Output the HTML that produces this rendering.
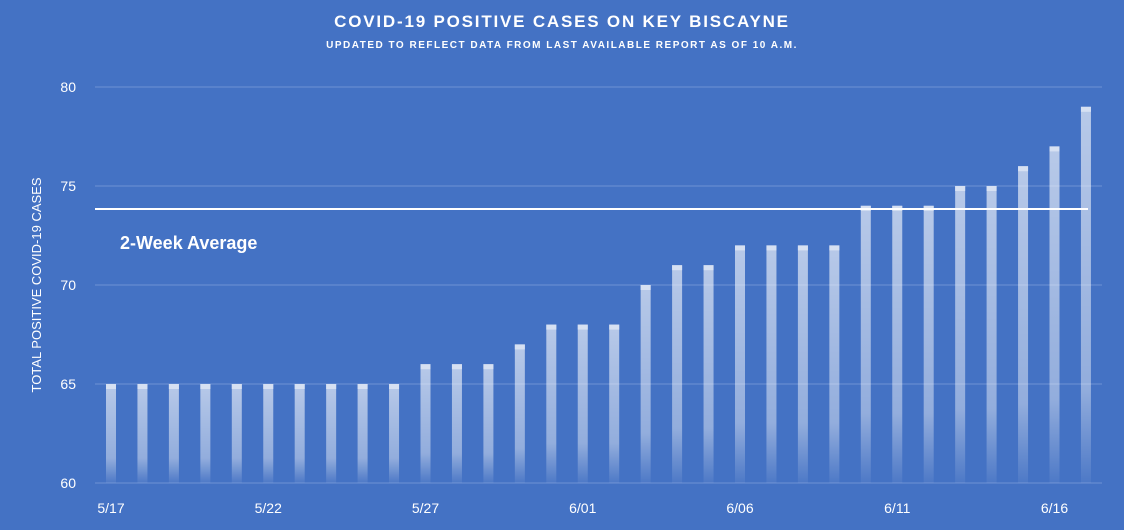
<!DOCTYPE html>
<html><head><meta charset="utf-8"><style>
body{margin:0;background:#4472c4;}
svg{display:block;font-family:"Liberation Sans",sans-serif;}
</style></head><body>
<svg id="chart" width="1124" height="530">
<defs>
<linearGradient id="bg" x1="0" y1="0" x2="0" y2="1">
<stop offset="0" stop-color="#ffffff" stop-opacity="0.62"/>
<stop offset="0.75" stop-color="#ffffff" stop-opacity="0.42"/>
<stop offset="1" stop-color="#ffffff" stop-opacity="0.05"/>
</linearGradient>
</defs>
<rect width="1124" height="530" fill="#4472c4"/>
<text x="562" y="27" text-anchor="middle" fill="#fff" font-size="17" font-weight="bold" letter-spacing="1.8">COVID-19 POSITIVE CASES ON KEY BISCAYNE</text>
<text x="562" y="48" text-anchor="middle" fill="#fff" font-size="10" font-weight="bold" letter-spacing="1.5">UPDATED TO REFLECT DATA FROM LAST AVAILABLE REPORT AS OF 10 A.M.</text>
<text transform="translate(41,285) rotate(-90)" text-anchor="middle" fill="#fff" font-size="13">TOTAL POSITIVE COVID-19 CASES</text>
<g id="grid"></g><g id="bars"></g><g id="xl"></g>
<line x1="95" x2="1088" y1="209" y2="209" stroke="#fff" stroke-width="2"/>
<text x="120" y="249" fill="#fff" font-size="18" font-weight="bold">2-Week Average</text>
</svg>
<script>
const values=[65,65,65,65,65,65,65,65,65,65,66,66,66,67,68,68,68,70,71,71,72,72,72,72,74,74,74,75,75,76,77,79];
const yTicks=[60,65,70,75,80];
const xLabels=["5/17","5/22","5/27","6/01","6/06","6/11","6/16"];
const xLabelIdx=[0,5,10,15,20,25,30];
const NS="http://www.w3.org/2000/svg";
const y=v=>483-(v-60)*19.8;
const x=i=>111+i*31.45;
const g=document.getElementById('grid'),b=document.getElementById('bars'),xl=document.getElementById('xl');
yTicks.forEach(t=>{
 const l=document.createElementNS(NS,'line');
 l.setAttribute('x1',95);l.setAttribute('x2',1102);l.setAttribute('y1',y(t));l.setAttribute('y2',y(t));
 l.setAttribute('stroke','#6087cf');l.setAttribute('stroke-width','1.5');
 
 
 g.appendChild(l);
 const tx=document.createElementNS(NS,'text');
 tx.setAttribute('x',76);tx.setAttribute('y',y(t)+5);tx.setAttribute('text-anchor','end');
 tx.setAttribute('fill','#fff');tx.setAttribute('font-size','14');tx.textContent=t;
 
 
 g.appendChild(tx);
});
values.forEach((v,i)=>{
 const r=document.createElementNS(NS,'rect');
 r.setAttribute('x',x(i)-5);r.setAttribute('y',y(v));r.setAttribute('width',10);r.setAttribute('height',483-y(v));
 r.setAttribute('fill','url(#bg)');
 
 
 b.appendChild(r);
 const c=document.createElementNS(NS,'rect');
 c.setAttribute('x',x(i)-5);c.setAttribute('y',y(v));c.setAttribute('width',10);c.setAttribute('height',5);
 c.setAttribute('fill','#d6e0f2');
 
 
 b.appendChild(c);
});
xLabels.forEach((s,k)=>{
 const tx=document.createElementNS(NS,'text');
 tx.setAttribute('x',x(xLabelIdx[k]));tx.setAttribute('y',513);tx.setAttribute('text-anchor','middle');
 tx.setAttribute('fill','#fff');tx.setAttribute('font-size','14');tx.textContent=s;
 
 
 xl.appendChild(tx);
});
</script>
</body></html>
